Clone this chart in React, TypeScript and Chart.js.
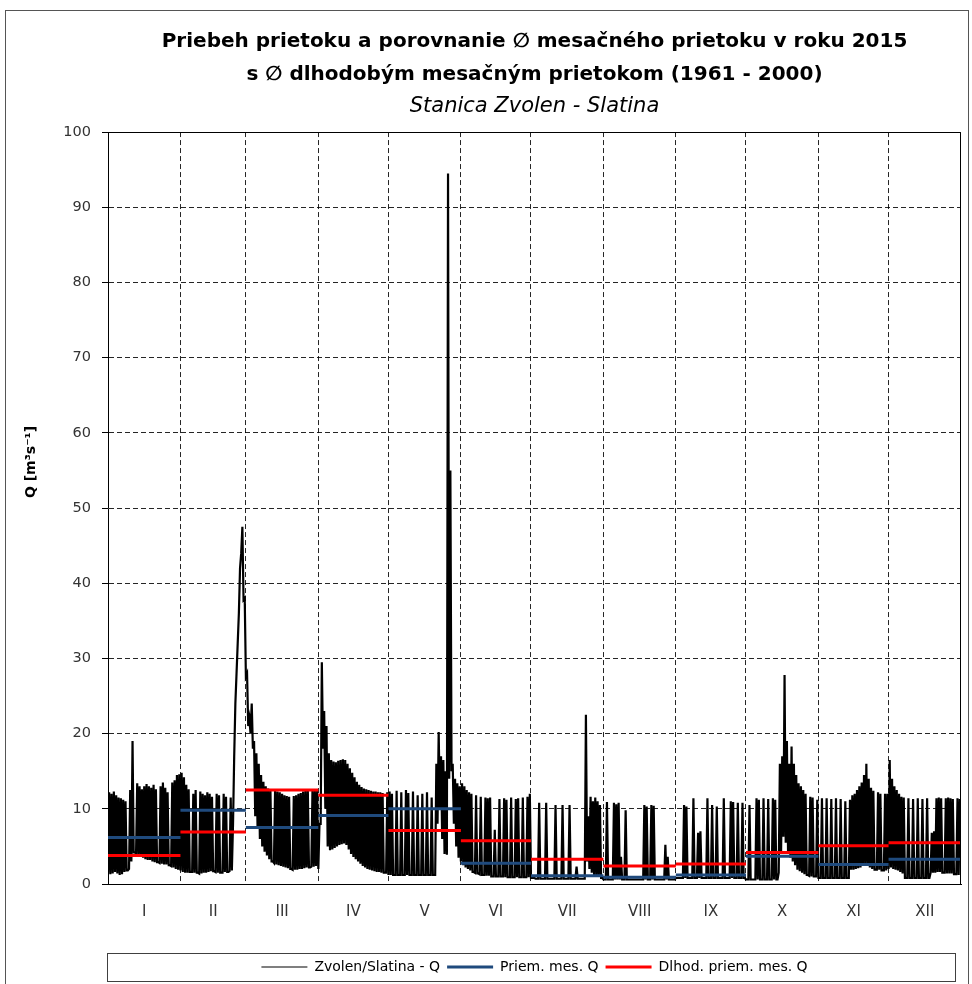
import React, { useEffect, useRef } from "react";
import { Chart, registerables } from "chart.js";

Chart.register(...registerables);

const FONT = "'DejaVu Sans', sans-serif";

const MONTH_LABELS = ["I", "II", "III", "IV", "V", "VI", "VII", "VIII", "IX", "X", "XI", "XII"];
const MONTH_DAYS = [31, 28, 31, 30, 31, 30, 31, 31, 30, 31, 30, 31];
const Y_MIN = 0;
const Y_MAX = 100;
const Y_STEP = 10;

// Average monthly discharge in 2015 (blue) and long-term monthly average 1961-2000 (red)
const monthlyMean2015 = [6.2, 9.8, 7.5, 9.1, 10.0, 2.75, 1.1, 0.9, 1.2, 3.7, 2.6, 3.3];
const longTermMean = [3.8, 6.9, 12.5, 11.8, 7.1, 5.75, 3.3, 2.4, 2.65, 4.2, 5.1, 5.5];

// Daily peak discharge (m3/s), one list per month
const dailyPeak = [
  [12.2, 12.0, 12.3, 11.8, 11.5, 11.4, 11.2, 11.0, 1.8, 12.5, 19.0, 4.2, 13.4, 13.0, 12.6, 13.0, 13.3, 13.0, 12.8, 13.2, 12.6, 2.9, 13.0, 13.5, 12.8, 12.2, 2.5, 13.5, 13.8, 14.5, 14.6],
  [14.8, 14.2, 13.2, 12.6, 1.6, 12.0, 12.5, 1.5, 12.3, 12.0, 11.8, 12.2, 12.0, 11.6, 1.7, 12.0, 11.8, 1.5, 12.0, 11.6, 1.6, 11.5, 8.0, 24.0, 32.0, 42.0, 47.5, 38.0],
  [28.0, 22.0, 24.0, 19.0, 17.4, 16.0, 14.5, 13.6, 13.0, 12.7, 12.6, 3.0, 12.5, 12.3, 12.2, 12.0, 11.8, 11.7, 11.6, 2.0, 11.7, 11.8, 12.0, 12.1, 12.3, 12.4, 12.5, 2.2, 12.6, 12.5, 12.4],
  [8.0, 29.5, 23.0, 21.0, 17.4, 16.5, 16.3, 16.2, 16.4, 16.5, 16.6, 16.5, 16.0, 15.4, 14.8, 14.2, 13.6, 13.2, 12.9, 12.7, 12.6, 12.5, 12.4, 12.3, 12.3, 12.2, 12.2, 12.1, 1.5, 12.2],
  [12.3, 12.0, 1.2, 12.4, 1.2, 12.2, 1.2, 12.5, 12.1, 1.2, 12.3, 1.2, 11.8, 1.2, 12.0, 1.2, 12.2, 1.2, 11.5, 1.2, 16.0, 20.2, 17.0, 16.5, 15.0, 94.5, 55.0, 16.0, 14.0, 13.4, 13.0],
  [13.4, 13.0, 12.5, 12.2, 12.0, 1.6, 11.8, 1.4, 11.6, 1.2, 11.5, 11.4, 11.5, 1.0, 7.2, 1.0, 11.3, 1.0, 11.4, 11.2, 0.9, 11.5, 0.9, 11.3, 11.4, 0.9, 11.5, 0.9, 11.6, 12.0],
  [0.8, 0.8, 0.7, 10.8, 0.7, 0.7, 10.8, 0.7, 0.7, 0.7, 10.5, 0.7, 0.7, 10.5, 0.7, 0.7, 10.5, 0.7, 0.7, 2.3, 0.7, 0.7, 0.7, 22.5, 9.0, 11.6, 11.0, 11.5, 11.0, 10.5, 0.8],
  [0.6, 10.9, 0.6, 0.6, 10.8, 10.6, 10.8, 3.6, 0.6, 9.8, 0.6, 0.6, 0.6, 0.6, 0.6, 0.6, 0.6, 10.5, 10.3, 0.6, 10.5, 10.4, 0.6, 0.6, 0.6, 0.6, 5.2, 3.6, 0.6, 0.6, 0.6],
  [0.8, 0.8, 0.8, 10.5, 10.3, 0.8, 0.8, 11.4, 0.8, 6.8, 7.0, 0.8, 0.8, 11.4, 0.8, 10.5, 0.8, 10.3, 0.8, 0.8, 11.4, 0.8, 0.8, 11.0, 10.9, 0.8, 10.8, 0.8, 10.8, 0.8],
  [0.6, 10.5, 0.6, 0.6, 11.4, 11.2, 0.6, 11.4, 0.6, 11.3, 0.6, 11.4, 11.2, 0.6, 16.0, 17.0, 27.8, 19.0, 16.0, 18.3, 16.0, 14.5, 13.4, 13.0, 12.5, 12.0, 1.2, 11.6, 11.5, 1.0, 11.2],
  [0.8, 11.4, 0.8, 11.4, 0.8, 11.3, 0.8, 11.4, 0.8, 11.3, 0.8, 11.0, 0.8, 11.2, 11.8, 12.0, 12.5, 13.0, 13.5, 14.5, 16.0, 14.0, 12.8, 12.4, 1.9, 12.2, 12.0, 1.8, 12.0, 12.0],
  [16.5, 14.0, 13.0, 12.5, 12.0, 11.6, 11.5, 0.8, 11.4, 0.8, 11.3, 0.8, 11.4, 0.8, 11.3, 0.8, 11.4, 0.8, 6.8, 7.0, 11.4, 11.5, 11.4, 1.5, 11.4, 11.5, 11.4, 11.3, 1.3, 11.4, 11.3],
];

// Daily low (trough) discharge (m3/s), one list per month
const dailyTrough = [
  [1.5, 1.3, 1.4, 1.6, 1.4, 1.2, 1.3, 1.6, 1.8, 2.0, 3.0, 4.2, 4.0, 3.9, 3.7, 3.5, 3.3, 3.2, 3.2, 3.0, 2.9, 2.9, 2.8, 2.7, 2.6, 2.6, 2.5, 2.4, 2.2, 2.0, 1.9],
  [1.8, 1.6, 1.5, 1.5, 1.6, 1.6, 1.5, 1.5, 1.4, 1.4, 1.5, 1.5, 1.6, 1.7, 1.7, 1.6, 1.5, 1.5, 1.5, 1.6, 1.6, 1.7, 1.8, 17.0, 28.0, 36.0, 44.0, 37.8],
  [27.6, 21.0, 20.0, 18.0, 9.0, 7.5, 6.0, 5.0, 4.3, 3.8, 3.3, 3.0, 2.8, 2.6, 2.5, 2.4, 2.3, 2.2, 2.1, 2.0, 1.9, 1.9, 1.9, 2.0, 2.0, 2.1, 2.2, 2.2, 2.3, 2.3, 2.4],
  [2.0, 8.0, 18.0, 10.0, 5.0, 4.5, 4.6, 4.8, 5.0, 5.2, 5.3, 5.4, 5.2, 4.6, 4.0, 3.6, 3.3, 3.0, 2.7, 2.4, 2.2, 2.0, 1.9, 1.8, 1.7, 1.6, 1.6, 1.5, 1.5, 1.5],
  [1.2, 1.2, 1.2, 1.2, 1.2, 1.2, 1.2, 1.2, 1.2, 1.2, 1.2, 1.2, 1.2, 1.2, 1.2, 1.2, 1.2, 1.2, 1.2, 1.2, 1.2, 8.0, 10.0, 6.0, 4.0, 3.9, 14.0, 15.0, 8.0, 5.0, 3.5],
  [3.0, 2.5, 2.2, 2.0, 1.8, 1.6, 1.5, 1.4, 1.3, 1.2, 1.2, 1.1, 1.1, 1.0, 1.0, 1.0, 1.0, 1.0, 1.0, 0.9, 0.9, 0.9, 0.9, 0.9, 0.9, 0.9, 0.9, 0.9, 0.9, 0.9],
  [0.8, 0.8, 0.7, 0.7, 0.7, 0.7, 0.7, 0.7, 0.7, 0.7, 0.7, 0.7, 0.7, 0.7, 0.7, 0.7, 0.7, 0.7, 0.7, 0.7, 0.7, 0.7, 0.7, 0.7, 3.0, 2.0, 1.5, 1.2, 1.0, 1.0, 0.8],
  [0.6, 0.6, 0.6, 0.6, 0.6, 0.6, 0.6, 0.6, 0.6, 0.6, 0.6, 0.6, 0.6, 0.6, 0.6, 0.6, 0.6, 0.6, 0.6, 0.6, 0.6, 0.6, 0.6, 0.6, 0.6, 0.6, 0.6, 0.6, 0.6, 0.6, 0.6],
  [0.8, 0.8, 0.8, 0.8, 0.8, 0.8, 0.8, 0.8, 0.8, 0.8, 0.8, 0.8, 0.8, 0.8, 0.8, 0.8, 0.8, 0.8, 0.8, 0.8, 0.8, 0.8, 0.8, 0.8, 0.8, 0.8, 0.8, 0.8, 0.8, 0.8],
  [0.6, 0.6, 0.6, 0.6, 0.6, 0.6, 0.6, 0.6, 0.6, 0.6, 0.6, 0.6, 0.6, 0.6, 1.5, 4.0, 6.3, 5.5, 4.1, 3.5, 3.0, 2.5, 1.9, 1.7, 1.5, 1.3, 1.2, 1.1, 1.0, 1.0, 1.0],
  [0.8, 0.8, 0.8, 0.8, 0.8, 0.8, 0.8, 0.8, 0.8, 0.8, 0.8, 0.8, 0.8, 0.8, 1.9, 1.9, 2.0, 2.1, 2.2, 2.4, 2.6, 2.4, 2.2, 2.0, 1.9, 1.9, 1.9, 1.8, 1.8, 1.8],
  [2.0, 2.2, 2.0, 1.9, 1.8, 1.6, 1.4, 0.8, 0.8, 0.8, 0.8, 0.8, 0.8, 0.8, 0.8, 0.8, 0.8, 0.8, 1.5, 1.5, 1.5, 1.6, 1.6, 1.5, 1.5, 1.4, 1.4, 1.4, 1.3, 1.3, 1.2],
];

const TITLE_LINES = [
  "Priebeh prietoku a porovnanie \u2205 mesačného prietoku v roku 2015",
  "s \u2205 dlhodobým mesačným prietokom (1961 - 2000)",
];
const SUBTITLE = "Stanica Zvolen - Slatina";
const Y_TITLE = "Q [m\u00B3s\u207B\u00B9]";
const SERIES_LABELS = ["Zvolen/Slatina - Q", "Priem. mes. Q", "Dlhod. priem. mes. Q"];

// month boundaries and centres (day of year)
const monthStarts: number[] = [];
{
  let acc = 0;
  for (const d of MONTH_DAYS) {
    monthStarts.push(acc);
    acc += d;
  }
}
const YEAR_DAYS = MONTH_DAYS.reduce((a, b) => a + b, 0);
const monthBoundaries = monthStarts.slice(1);
const monthCentres = monthStarts.map((s, i) => s + MONTH_DAYS[i] / 2);

function buildFlow() {
  const pts: { x: number; y: number }[] = [];
  let day = 0;
  dailyPeak.forEach((peaks, m) => {
    peaks.forEach((p, i) => {
      pts.push({ x: day, y: dailyTrough[m][i] });
      pts.push({ x: day + 0.5, y: p });
      day++;
    });
  });
  return pts;
}

function buildSteps(values: number[]) {
  const pts: { x: number; y: number | null }[] = [];
  values.forEach((v, m) => {
    const s = monthStarts[m];
    const e = s + MONTH_DAYS[m];
    pts.push({ x: s, y: v }, { x: e, y: v }, { x: e, y: null });
  });
  return pts;
}

const framePlugin = {
  id: "framePlugin",
  afterDraw(chart: any) {
    const { ctx, chartArea: a, legend } = chart;
    ctx.save();
    // plot area top/right border
    ctx.strokeStyle = "#000";
    ctx.lineWidth = 1;
    ctx.beginPath();
    ctx.moveTo(a.left, Math.round(a.top) + 0.5);
    ctx.lineTo(Math.round(a.right) - 0.5, Math.round(a.top) + 0.5);
    ctx.lineTo(Math.round(a.right) - 0.5, a.bottom);
    ctx.stroke();
    // legend box
    if (legend) {
      ctx.strokeStyle = "#404040";
      ctx.strokeRect(Math.round(a.left) - 0.5, Math.round(legend.top) + 0.5, Math.round(a.right - a.left) - 5, 28);
    }
    // outer frame
    ctx.strokeStyle = "#555";
    ctx.strokeRect(5.5, 10.5, 963, 1000);
    // y axis title
    ctx.translate(31, 462);
    ctx.rotate(-Math.PI / 2);
    ctx.fillStyle = "#000";
    ctx.font = "bold 14px " + FONT;
    ctx.textAlign = "center";
    ctx.textBaseline = "middle";
    ctx.fillText(Y_TITLE, 0, 0);
    ctx.restore();
  },
};

export default function App() {
  const ref = useRef<HTMLCanvasElement | null>(null);

  useEffect(() => {
    if (!ref.current) return;
    Chart.defaults.font.family = FONT;
    const defaultLabels = Chart.defaults.plugins.legend.labels.generateLabels;
    const chart = new Chart(ref.current, {
      type: "line",
      data: {
        datasets: [
          {
            label: SERIES_LABELS[0],
            data: buildFlow(),
            borderColor: "#000000",
            backgroundColor: "#000000",
            borderWidth: 2.2,
            borderJoinStyle: "miter",
            pointRadius: 0,
            tension: 0,
            order: 3,
          },
          {
            label: SERIES_LABELS[1],
            data: buildSteps(monthlyMean2015),
            borderColor: "#1f4a7d",
            backgroundColor: "#1f4a7d",
            borderWidth: 3,
            pointRadius: 0,
            spanGaps: false,
            order: 2,
          },
          {
            label: SERIES_LABELS[2],
            data: buildSteps(longTermMean),
            borderColor: "#ff0000",
            backgroundColor: "#ff0000",
            borderWidth: 3,
            pointRadius: 0,
            spanGaps: false,
            order: 1,
          },
        ],
      },
      options: {
        responsive: false,
        animation: false,
        events: [],
        layout: { padding: { top: 0, left: 0, right: 11, bottom: 0 } },
        plugins: {
          tooltip: { enabled: false },
          title: {
            display: true,
            fullSize: false,
            text: TITLE_LINES,
            color: "#000",
            font: { family: FONT, size: 20, weight: "bold", lineHeight: 1.65 },
            padding: { top: 25.5, bottom: 0 },
          },
          subtitle: {
            display: true,
            fullSize: false,
            text: SUBTITLE,
            color: "#000",
            font: { family: FONT, size: 21, style: "italic", lineHeight: 1.15 },
            padding: { top: 3.4, bottom: 13 },
          },
          legend: {
            display: true,
            position: "bottom",
            fullSize: false,
            labels: {
              color: "#000",
              font: { family: FONT, size: 14 },
              usePointStyle: true,
              pointStyle: "line",
              pointStyleWidth: 46,
              padding: 7,
              sort: (a: any, b: any) => a.datasetIndex - b.datasetIndex,
              generateLabels: (c: any) => {
                const items = defaultLabels(c);
                items.forEach((it: any) => {
                  if (it.datasetIndex === 0) it.lineWidth = 1.2;
                });
                return items;
              },
            },
          },
        },
        scales: {
          x: {
            type: "linear",
            position: "bottom",
            weight: 0,
            min: 0,
            max: YEAR_DAYS,
            afterBuildTicks: (s: any) => {
              s.ticks = monthBoundaries.map((v) => ({ value: v }));
            },
            afterFit: (s: any) => {
              s.height = 0;
            },
            ticks: { display: false },
            grid: { display: true, drawTicks: false, color: "rgba(0,0,0,0.85)", lineWidth: 1 },
            border: { display: true, color: "#000", width: 1, dash: [5, 3] },
          },
          xMonths: {
            type: "linear",
            position: "bottom",
            weight: 1,
            min: 0,
            max: YEAR_DAYS,
            afterBuildTicks: (s: any) => {
              s.ticks = monthCentres.map((v) => ({ value: v }));
            },
            afterFit: (s: any) => {
              s.height = 69;
            },
            ticks: {
              autoSkip: false,
              maxRotation: 0,
              minRotation: 0,
              padding: 19,
              color: "#333",
              font: { family: FONT, size: 15 },
              callback: (_v: any, i: number) => MONTH_LABELS[i],
            },
            grid: { display: false, drawTicks: false },
            border: { display: false },
          },
          y: {
            type: "linear",
            position: "left",
            min: Y_MIN,
            max: Y_MAX,
            afterFit: (s: any) => {
              s.width = 108;
            },
            ticks: {
              stepSize: Y_STEP,
              padding: 11,
              color: "#333",
              font: { family: FONT, size: 14.5 },
            },
            grid: {
              display: true,
              drawTicks: true,
              tickLength: 6,
              tickColor: "#000",
              color: "rgba(0,0,0,0.85)",
              lineWidth: 1,
            },
            border: { display: true, color: "#000", width: 1, dash: [5, 3] },
            title: { display: false, text: Y_TITLE },
          },
        },
      },
      plugins: [framePlugin],
    } as any);
    return () => chart.destroy();
  }, []);

  return (
    <div style={{ position: "absolute", left: 0, top: 0, width: 972, height: 984, background: "#fff" }}>
      <canvas ref={ref} width={972} height={984} style={{ display: "block", width: 972, height: 984 }} />
    </div>
  );
}
